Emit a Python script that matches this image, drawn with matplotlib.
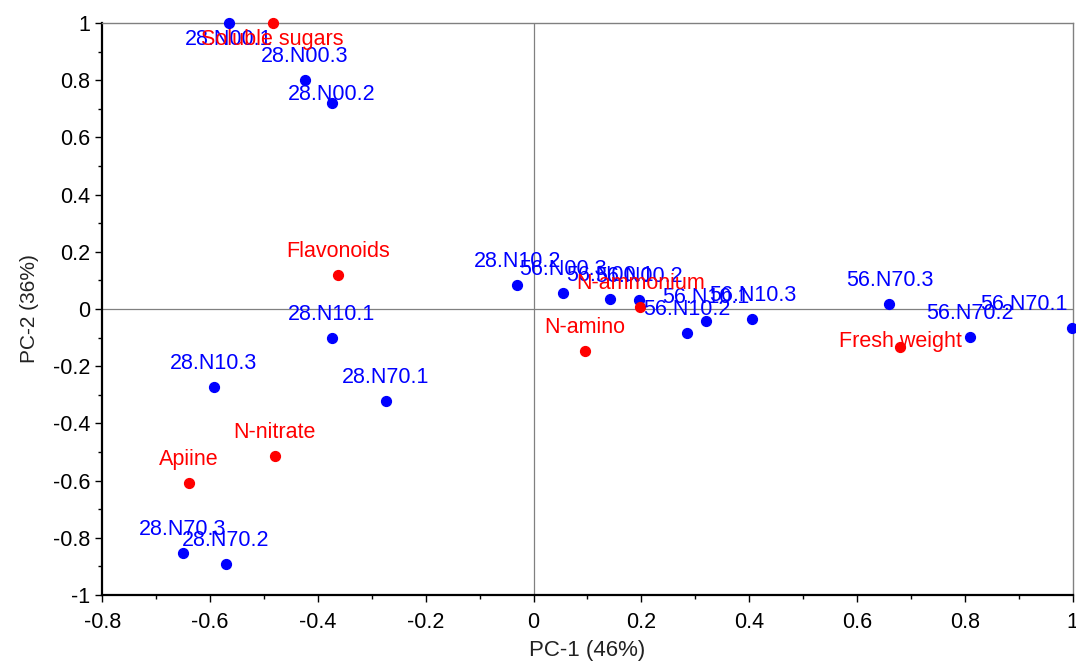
import matplotlib.pyplot as plt
from matplotlib.ticker import MultipleLocator

plt.rcParams['font.family'] = ['Liberation Sans', 'DejaVu Sans']

# sample scores (blue)
samples = ['28.N00.1', '28.N00.3', '28.N00.2', '28.N10.2', '56.N00.3', '56.N00.1',
           '56.N00.2', '56.N10.2', '56.N10.1', '56.N10.3', '56.N70.3', '56.N70.2',
           '56.N70.1', '28.N10.1', '28.N10.3', '28.N70.1', '28.N70.3', '28.N70.2']
sample_pc1 = [-0.565, -0.424, -0.374, -0.030, 0.054, 0.141, 0.195, 0.284, 0.319,
              0.406, 0.660, 0.810, 0.999, -0.374, -0.593, -0.274, -0.651, -0.571]
sample_pc2 = [1.000, 0.800, 0.720, 0.084, 0.056, 0.035, 0.031, -0.084, -0.042,
              -0.035, 0.017, -0.098, -0.066, -0.101, -0.273, -0.322, -0.853, -0.892]

# variable loadings (red)
variables = ['Soluble sugars', 'Flavonoids', 'N-ammonium', 'N-amino',
             'Fresh weight', 'N-nitrate', 'Apiine']
var_pc1 = [-0.484, -0.363, 0.198, 0.095, 0.680, -0.480, -0.639]
var_pc2 = [1.000, 0.119, 0.007, -0.147, -0.133, -0.514, -0.608]

# label placement: default above the point, a few moved to stay inside the frame
DEFAULT_OFFSET = (0, 13)
LABEL_OFFSETS = {
    '28.N00.1': (0, -16),
    'Soluble sugars': (0, -16),
    '28.N00.2': (0, 2),
    'Fresh weight': (0, 0),
    '56.N70.1': (-35, 13),
}

fig = plt.figure(figsize=(10.76, 6.61), dpi=100)
ax = fig.add_axes([0.095, 0.10, 0.902, 0.865])

ax.axhline(0, color='#808080', lw=0.9, zorder=1)
ax.axvline(0, color='#808080', lw=0.9, zorder=1)

ax.scatter(sample_pc1, sample_pc2, s=50, color='#0000ff', zorder=5, clip_on=False)
ax.scatter(var_pc1, var_pc2, s=50, color='#ff0000', zorder=5, clip_on=False)

for names, xs, ys, color, z in [(samples, sample_pc1, sample_pc2, '#0000ff', 6),
                                (variables, var_pc1, var_pc2, '#ff0000', 7)]:
    for name, x, y in zip(names, xs, ys):
        ax.annotate(name, (x, y), xytext=LABEL_OFFSETS.get(name, DEFAULT_OFFSET),
                    textcoords='offset points', ha='center', va='baseline',
                    color=color, fontsize=15.5, annotation_clip=False, zorder=z)

ax.set_xlim(-0.8, 1.0)
ax.set_ylim(-1.0, 1.0)
ax.xaxis.set_major_locator(MultipleLocator(0.2))
ax.xaxis.set_minor_locator(MultipleLocator(0.1))
ax.yaxis.set_major_locator(MultipleLocator(0.2))
ax.yaxis.set_minor_locator(MultipleLocator(0.1))
ax.xaxis.set_major_formatter(lambda v, p: f'{v:g}' if abs(v) > 1e-9 else '0')
ax.yaxis.set_major_formatter(lambda v, p: f'{v:g}' if abs(v) > 1e-9 else '0')

ax.tick_params(which='major', direction='out', length=5, width=1, labelsize=15.5, colors='#000000')
ax.tick_params(which='minor', direction='out', length=3, width=1)
ax.tick_params(axis='x', pad=7)

for side in ['left', 'bottom']:
    ax.spines[side].set_color('#000000')
    ax.spines[side].set_linewidth(1.6)
for side in ['top', 'right']:
    ax.spines[side].set_color('#808080')
    ax.spines[side].set_linewidth(1.0)

ax.set_xlabel('PC-1 (46%)', fontsize=16, color='#222222', labelpad=5)
ax.set_ylabel('PC-2 (36%)', fontsize=15, color='#222222', labelpad=10)

fig.savefig('out.png', dpi=100)
